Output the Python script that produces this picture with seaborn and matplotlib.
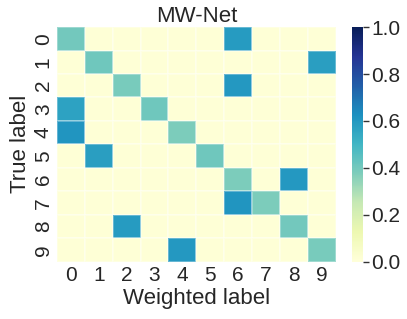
import numpy as np
import pandas as pd
import matplotlib
matplotlib.use("Agg")
import matplotlib.pyplot as plt
import seaborn as sns

labels = [str(i) for i in range(10)]
# diagonal value per true label, and the single off-diagonal weighted label/value
diag_vals = [0.40, 0.41, 0.39, 0.41, 0.38, 0.41, 0.38, 0.38, 0.40, 0.39]
off_cols = [6, 9, 6, 0, 0, 1, 8, 6, 2, 4]
off_vals = [0.59, 0.58, 0.60, 0.57, 0.61, 0.58, 0.60, 0.61, 0.59, 0.60]

mat = np.full((10, 10), 0.01)
for i in range(10):
    mat[i, i] = diag_vals[i]
    mat[i, off_cols[i]] = off_vals[i]
df = pd.DataFrame(mat, index=labels, columns=labels)

sns.set_theme(style="white", font_scale=1.5)
plt.rcParams['font.family'] = ['Liberation Sans', 'DejaVu Sans']

fig = plt.figure(figsize=(4.07, 3.19), dpi=100)
ax = fig.add_axes([0.14, 0.18, 0.685, 0.735])
cax = fig.add_axes([0.865, 0.18, 0.027, 0.735])
sns.heatmap(df, ax=ax, cbar_ax=cax, cmap="YlGnBu", vmin=0, vmax=1,
            linewidths=0.3, linecolor=(1, 1, 1, 0.3),
            xticklabels=labels, yticklabels=labels)
ax.set_title("MW-Net", fontsize=16, pad=4)
ax.set_xlabel("Weighted label", fontsize=16, labelpad=2)
ax.set_ylabel("True label", fontsize=16, labelpad=2)
ax.tick_params(axis='both', labelsize=15, length=0, pad=3)
plt.setp(ax.get_yticklabels(), rotation=90, va='center')
plt.setp(ax.get_xticklabels(), rotation=0)
cax.tick_params(labelsize=15, length=4, width=1, color='#333333', pad=2)
cax.yaxis.set_ticks_position('right')
cax.set_yticks([0, 0.2, 0.4, 0.6, 0.8, 1.0])
cax.set_yticklabels(["0.0", "0.2", "0.4", "0.6", "0.8", "1.0"])
fig.savefig("out.png", dpi=100)
